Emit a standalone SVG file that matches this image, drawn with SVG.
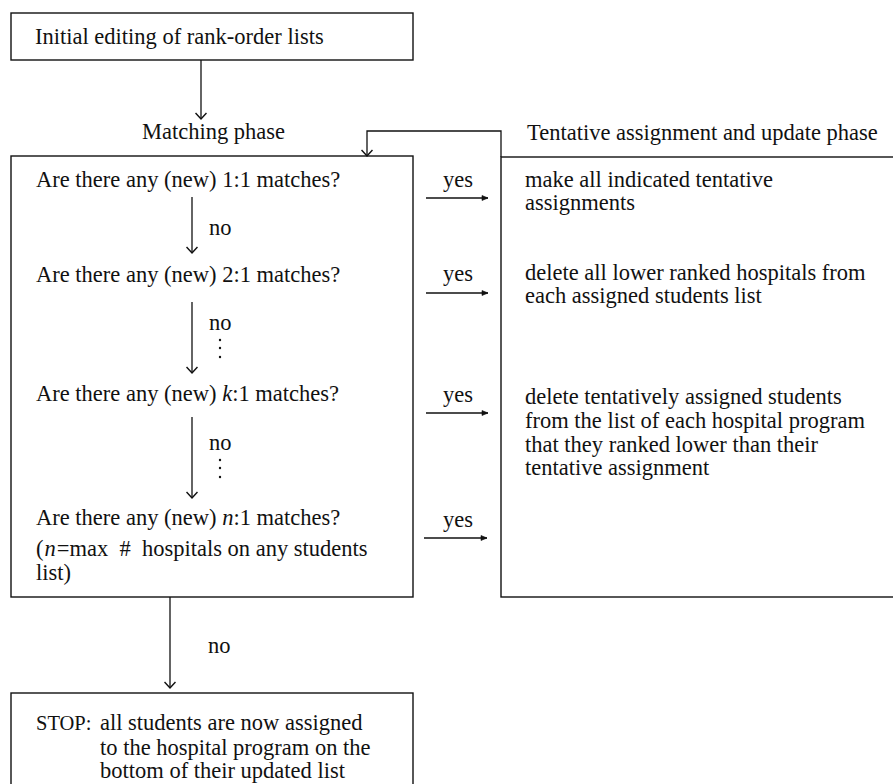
<svg xmlns="http://www.w3.org/2000/svg" width="893" height="784" viewBox="0 0 893 784">
<style>
  text { font-family: "Liberation Serif", "Times New Roman", serif; font-size: 22.5px; fill: #111; }
  .box { fill: none; stroke: #111; stroke-width: 1.4; }
  .ln { fill: none; stroke: #111; stroke-width: 1.3; }
  .dot { fill: #111; }
  .it { font-style: italic; }
</style>
<defs>
  <marker id="ah" markerUnits="userSpaceOnUse" viewBox="-7 -6 9 12" refX="0" refY="0" markerWidth="9" markerHeight="12" orient="auto">
    <path d="M-6,-5.5 L0,0 L-6,5.5" fill="none" stroke="#111" stroke-width="1.5"/>
  </marker>
  <marker id="ahs" markerUnits="userSpaceOnUse" viewBox="-7 -4 8 8" refX="0" refY="0" markerWidth="8" markerHeight="8" orient="auto">
    <path d="M-6,-2.5 L0,0 L-6,2.5 Z" fill="#111" stroke="#111" stroke-width="0.6"/>
  </marker>
</defs>

<g id="connectors">
  <line class="ln" x1="201" y1="60" x2="201" y2="119" marker-end="url(#ah)"/>
  <polyline class="ln" points="501,157 501,131 367,131 367,156" marker-end="url(#ah)"/>
  <line class="ln" x1="192" y1="197" x2="192" y2="253" marker-end="url(#ah)"/>
  <line class="ln" x1="192" y1="302" x2="192" y2="373" marker-end="url(#ah)"/>
  <line class="ln" x1="192" y1="417" x2="192" y2="498" marker-end="url(#ah)"/>
  <line class="ln" x1="170" y1="597" x2="170" y2="688" marker-end="url(#ah)"/>
  <line class="ln" x1="426" y1="198" x2="488" y2="198" marker-end="url(#ahs)"/>
  <line class="ln" x1="426" y1="293" x2="488" y2="293" marker-end="url(#ahs)"/>
  <line class="ln" x1="426" y1="413" x2="488" y2="413" marker-end="url(#ahs)"/>
  <line class="ln" x1="424" y1="538" x2="487" y2="538" marker-end="url(#ahs)"/>
  <text x="209" y="235">no</text>
  <text x="209" y="330">no</text>
  <circle class="dot" cx="220" cy="340" r="1.2"/>
  <circle class="dot" cx="220" cy="348" r="1.2"/>
  <circle class="dot" cx="220" cy="357" r="1.2"/>
  <text x="209" y="450">no</text>
  <circle class="dot" cx="220" cy="460" r="1.2"/>
  <circle class="dot" cx="220" cy="468" r="1.2"/>
  <circle class="dot" cx="220" cy="477" r="1.2"/>
  <text x="208" y="653">no</text>
  <text x="443" y="187">yes</text>
  <text x="443" y="281">yes</text>
  <text x="443" y="402">yes</text>
  <text x="443" y="527">yes</text>
</g>

<g id="initial-editing">
  <rect class="box" x="11" y="13" width="402" height="47"/>
  <text x="35" y="44">Initial editing of rank-order lists</text>
</g>

<g id="matching-phase">
  <text x="142" y="139">Matching phase</text>
  <rect class="box" x="11" y="156" width="402" height="441"/>
  <text x="36" y="187">Are there any (new) 1:1 matches?</text>
  <text x="36" y="282">Are there any (new) 2:1 matches?</text>
  <text x="36" y="401">Are there any (new) <tspan class="it">k</tspan>:1 matches?</text>
  <text x="36" y="525">Are there any (new) <tspan class="it">n</tspan>:1 matches?</text>
  <text x="36" y="556">(<tspan class="it" dx="1">n</tspan><tspan dx="1">=max&#160; #&#160; hospitals on any students</tspan></text>
  <text x="36" y="580">list)</text>
</g>

<g id="update-phase">
  <text x="527" y="140">Tentative assignment and update phase</text>
  <rect class="box" x="501" y="157" width="420" height="440"/>
  <text x="525" y="187">make all indicated tentative</text>
  <text x="525" y="210">assignments</text>
  <text x="525" y="280">delete all lower ranked hospitals from</text>
  <text x="525" y="303">each assigned students list</text>
  <text x="525" y="404">delete tentatively assigned students</text>
  <text x="525" y="428">from the list of each hospital program</text>
  <text x="525" y="452">that they ranked lower than their</text>
  <text x="525" y="475">tentative assignment</text>
</g>

<g id="stop">
  <rect class="box" x="11" y="693" width="402" height="110"/>
  <text x="36" y="730" style="font-size:20.5px">STOP:</text>
  <text x="100" y="730">all students are now assigned</text>
  <text x="100" y="755">to the hospital program on the</text>
  <text x="100" y="778">bottom of their updated list</text>
</g>
</svg>
